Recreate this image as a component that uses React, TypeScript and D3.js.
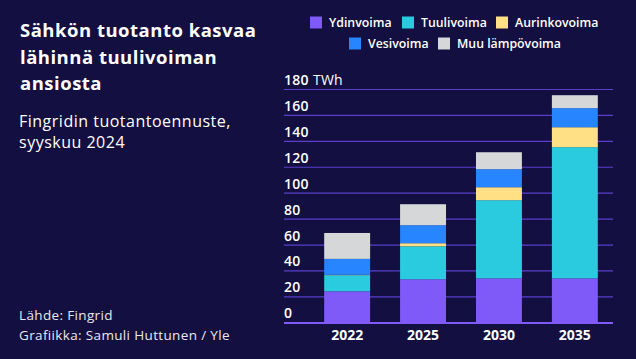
import React from "react";
import * as d3 from "d3";

const years = ["2022", "2025", "2030", "2035"];
const seriesNames = ["Ydinvoima", "Tuulivoima", "Aurinkovoima", "Vesivoima", "Muu lämpövoima"];
const ydinvoima = [24.3, 33.6, 34.3, 34.3];
const tuulivoima = [12.4, 25.4, 60.3, 101.2];
const aurinkovoima = [0.3, 2.4, 10.0, 15.4];
const vesivoima = [12.3, 13.9, 13.9, 14.7];
const muu = [20.0, 16.2, 13.1, 10.0];
const yTicks = [0, 20, 40, 60, 80, 100, 120, 140, 160, 180];
const unitLabel = "TWh";
const colors = ["#7F5AF8", "#2ACBDE", "#FFE084", "#2685FF", "#D6D7D9"];

const W = 636;
const H = 359;
const BG = "#130F40";
const FONT = "'Open Sans', sans-serif";

export default function App() {
  const rows = years.map((y, i) => ({
    year: y,
    Ydinvoima: ydinvoima[i],
    Tuulivoima: tuulivoima[i],
    Aurinkovoima: aurinkovoima[i],
    Vesivoima: vesivoima[i],
    "Muu lämpövoima": muu[i],
  }));
  const stack = d3.stack<any>().keys(seriesNames)(rows);
  const x = d3.scaleBand<string>().domain(years).range([309, 613]).paddingInner(30 / 76).paddingOuter(0.2);
  const y = d3.scaleLinear().domain([0, 180]).range([322.8, 89.5]);
  const gridX0 = 284;
  const gridX1 = 613;

  const legendRow1 = [
    { i: 0, x: 310 },
    { i: 1, x: 402 },
    { i: 2, x: 496 },
  ];
  const legendRow2 = [
    { i: 3, x: 349 },
    { i: 4, x: 438 },
  ];

  return (
    <svg width={W} height={H} style={{ display: "block", position: "absolute", left: 0, top: 0 }}>
      <rect x={0} y={0} width={W} height={H} fill={BG} />
      {/* Title */}
      <g fontFamily={FONT} fill="#FFFFFF">
        <g fontSize={18.5} fontWeight={700} letterSpacing={0.5}>
          <text x={20} y={37}>Sähkön tuotanto kasvaa</text>
          <text x={20} y={63.5}>lähinnä tuulivoiman</text>
          <text x={20} y={90}>ansiosta</text>
        </g>
        <g fontSize={16} letterSpacing={0.5}>
          <text x={19} y={127}>Fingridin tuotantoennuste,</text>
          <text x={19} y={148}>syyskuu 2024</text>
        </g>
        <g fontSize={13.5} letterSpacing={0.35} fill="#E8E8EE">
          <text x={19} y={320}>Lähde: Fingrid</text>
          <text x={19} y={339.5}>Grafiikka: Samuli Huttunen / Yle</text>
        </g>
      </g>
      {/* Legend */}
      <g fontFamily={FONT} fontSize={12.3} fontWeight={600} fill="#FFFFFF">
        {legendRow1.map((d) => (
          <g key={d.i}>
            <rect x={d.x} y={16.5} width={12} height={12} fill={colors[d.i]} />
            <text x={d.x + 19} y={27}>{seriesNames[d.i]}</text>
          </g>
        ))}
        {legendRow2.map((d) => (
          <g key={d.i}>
            <rect x={d.x} y={37.5} width={12} height={12} fill={colors[d.i]} />
            <text x={d.x + 19} y={48}>{seriesNames[d.i]}</text>
          </g>
        ))}
      </g>
      {/* Grid */}
      {yTicks.filter((t) => t > 0).map((t) => (
        <line key={t} x1={gridX0} x2={gridX1} y1={y(t)} y2={y(t)} stroke="#5B3FCC" strokeWidth={1.2} />
      ))}
      {/* Bars */}
      {stack.map((s, si) => (
        <g key={s.key} fill={colors[si]}>
          {s.map((d: any, j: number) => (
            <rect
              key={j}
              x={x(years[j])}
              y={y(d[1])}
              width={x.bandwidth()}
              height={Math.max(0, y(d[0]) - y(d[1]))}
            />
          ))}
        </g>
      ))}
      {/* Baseline */}
      <line x1={gridX0} x2={gridX1} y1={y(0) + 0.2} y2={y(0) + 0.2} stroke="#7F5AF8" strokeWidth={2} />
      {/* Y tick labels */}
      <g fontFamily={FONT} fontSize={14} fontWeight={600} fill="#FFFFFF" letterSpacing={0.2}>
        {yTicks.map((t) => (
          <text key={t} x={gridX0} y={y(t) - 4.5}>{String(t)}</text>
        ))}
        <text x={313} y={y(180) - 4.5} fontWeight={500}>{unitLabel}</text>
      </g>
      {/* X labels */}
      <g fontFamily={FONT} fontSize={14} fontWeight={700} fill="#FFFFFF" textAnchor="middle">
        {years.map((yr) => (
          <text key={yr} x={(x(yr) as number) + x.bandwidth() / 2} y={340}>{yr}</text>
        ))}
      </g>
    </svg>
  );
}
